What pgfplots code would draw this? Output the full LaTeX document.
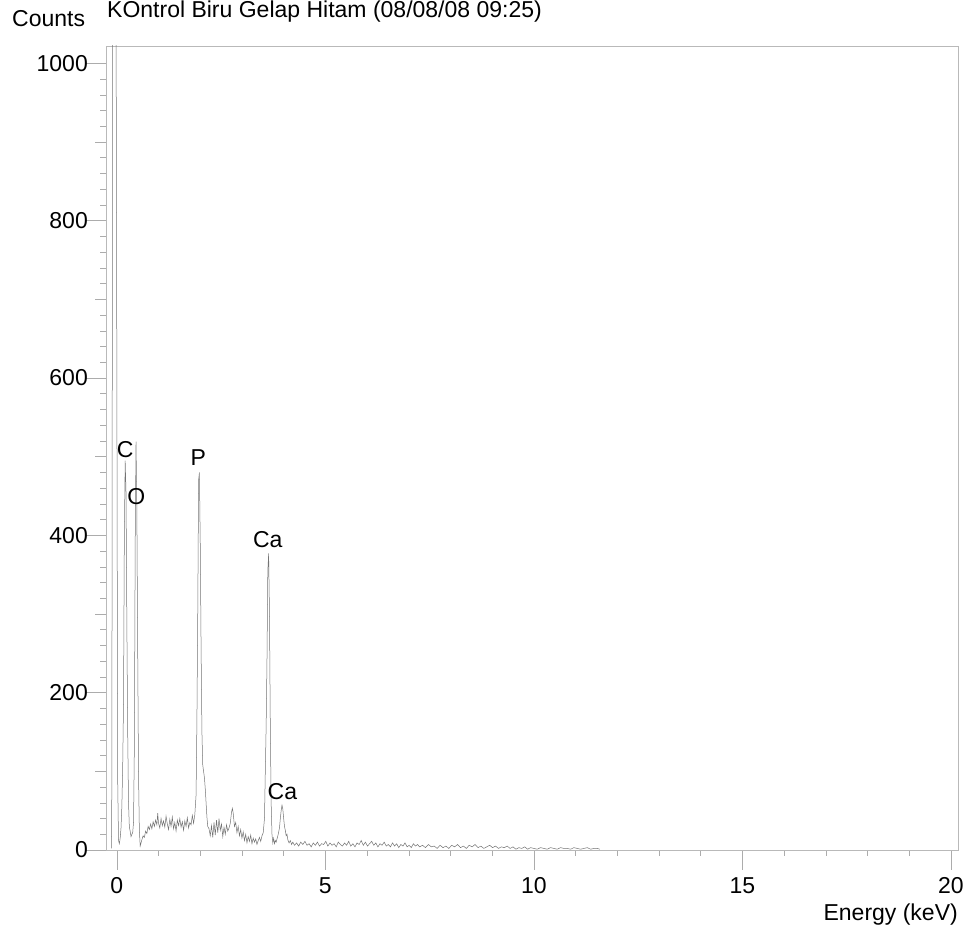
\documentclass[border=0pt]{standalone}
\usepackage{fontspec}
\setmainfont{Liberation Sans}
\usepackage{pgfplots}
\pgfplotsset{compat=1.18}

\pgfplotstableread{
E C
-0.13 2
-0.12 80
-0.10 1100
-0.02 1100
0.00 608
0.02 90
0.04 12
0.06 8
0.08 15
0.10 28
0.12 55
0.14 105
0.16 187
0.18 400
0.20 495
0.22 455
0.24 289
0.26 150
0.28 60
0.30 29
0.32 24
0.34 17
0.36 20
0.38 22
0.40 35
0.42 130
0.44 390
0.46 519
0.48 430
0.50 254
0.52 95
0.54 25
0.56 5
0.58 9
0.60 13
0.63 18
0.66 16
0.69 24
0.72 21
0.75 30
0.78 26
0.81 33
0.84 27
0.87 36
0.90 30
0.93 38
0.96 32
0.98 47
1.00 34
1.03 28
1.06 40
1.09 31
1.12 37
1.15 29
1.18 43
1.21 33
1.24 26
1.27 39
1.30 30
1.33 42
1.36 27
1.39 35
1.42 24
1.45 38
1.48 31
1.51 40
1.54 29
1.57 36
1.60 25
1.63 37
1.66 30
1.69 41
1.72 28
1.75 35
1.78 32
1.81 44
1.84 34
1.87 45
1.90 70
1.92 165
1.94 300
1.96 470
1.98 480
2.00 390
2.02 258
2.04 150
2.06 108
2.08 100
2.10 92
2.12 78
2.14 60
2.16 42
2.18 30
2.21 27
2.24 18
2.27 31
2.30 16
2.33 35
2.36 19
2.39 38
2.42 22
2.45 40
2.48 25
2.51 33
2.54 17
2.57 29
2.60 20
2.63 32
2.66 24
2.69 28
2.72 34
2.75 48
2.77 53
2.79 47
2.82 30
2.85 35
2.88 22
2.91 30
2.94 18
2.97 26
3.00 15
3.03 23
3.06 12
3.09 20
3.12 9
3.15 17
3.18 11
3.21 19
3.24 8
3.27 15
3.30 10
3.33 14
3.36 7
3.39 12
3.42 16
3.45 11
3.48 18
3.51 22
3.54 40
3.56 100
3.58 157
3.60 240
3.62 355
3.64 377
3.66 300
3.68 157
3.70 60
3.72 20
3.74 9
3.76 15
3.78 8
3.80 12
3.82 10
3.84 14
3.87 20
3.90 28
3.92 40
3.94 50
3.96 57
3.98 52
4.00 40
4.02 30
4.04 25
4.06 18
4.08 20
4.10 13
4.13 9
4.16 12
4.19 7
4.22 10
4.26 6
4.31 9
4.36 5
4.41 10
4.46 7
4.51 11
4.56 6
4.61 8
4.66 4
4.71 9
4.76 6
4.81 10
4.86 5
4.91 8
4.96 7
5.01 11
5.06 5
5.11 9
5.16 6
5.21 8
5.26 4
5.31 10
5.36 7
5.41 5
5.46 9
5.51 6
5.56 11
5.61 5
5.66 8
5.71 4
5.76 9
5.81 7
5.86 12
5.91 6
5.96 10
6.01 5
6.06 8
6.11 11
6.16 6
6.21 9
6.26 4
6.31 8
6.36 6
6.41 10
6.46 5
6.51 7
6.56 4
6.61 9
6.66 5
6.71 8
6.76 3
6.81 7
6.86 5
6.91 9
6.96 4
7.01 6
7.06 3
7.11 8
7.16 5
7.21 7
7.26 4
7.33 6
7.40 3
7.47 7
7.54 4
7.61 5
7.68 2
7.75 6
7.82 3
7.89 5
7.96 2
8.03 6
8.10 4
8.17 7
8.24 3
8.31 5
8.38 2
8.45 6
8.52 4
8.59 7
8.66 3
8.73 5
8.80 2
8.87 4
8.94 6
9.01 3
9.08 5
9.15 2
9.22 4
9.29 3
9.36 5
9.43 2
9.50 4
9.57 1
9.64 3
9.71 2
9.78 4
9.85 1
9.92 3
10.00 2
10.08 1
10.16 3
10.24 2
10.32 1
10.40 3
10.48 2
10.56 1
10.64 3
10.72 2
10.80 2
10.88 1
10.96 3
11.04 2
11.12 1
11.20 2
11.28 3
11.36 1
11.44 2
11.52 2
11.58 1
}\spectrum

\begin{document}
\fontsize{23bp}{27bp}\selectfont
\begin{tikzpicture}
\useasboundingbox (-106bp,-84bp) rectangle (862bp,850bp);
\begin{axis}[
  at={(0,0)}, anchor=south west,
  scale only axis,
  width=852bp, height=804bp,
  xmin=-0.26, xmax=20.17,
  ymin=0, ymax=1022,
  axis line style={gray!55, line width=0.6bp},
  tick align=outside,
  xtick pos=bottom, ytick pos=left,
  xtick={0,5,10,15,20},
  minor xtick={1,2,3,4,6,7,8,9,11,12,13,14,16,17,18,19},
  ytick={0,200,400,600,800,1000},
  minor y tick num=9,
  extra y ticks={100,300,500,700,900},
  extra y tick labels={},
  extra y tick style={major tick length=11bp},
  major tick length=20bp,
  minor tick length=6bp,
  every tick/.style={gray!65, line width=0.5bp},
  /pgf/number format/assume math mode=true,
  /pgf/number format/1000 sep={},
  tick label style={font=\fontsize{23bp}{27bp}\selectfont, black},
  yticklabel style={inner sep=1bp, xshift=3bp},
  xticklabel style={inner sep=1bp, yshift=-6bp},
]
\addplot[black!55, line width=0.5bp] table[x=E, y=C] {\spectrum};
\node at (axis cs:0.20,509) {C};
\node at (axis cs:0.47,449) {O};
\node at (axis cs:1.955,499) {P};
\node at (axis cs:3.62,394) {Ca};
\node at (axis cs:3.97,74) {Ca};
\end{axis}
\node[anchor=base west, inner sep=0pt] at (-94bp,823bp) {Counts};
\node[anchor=base west, inner sep=0pt] at (1bp,832bp) {KOntrol Biru Gelap Hitam (08/08/08 09:25)};
\node[anchor=base east, inner sep=0pt] at (852bp,-70bp) {Energy (keV)};
\end{tikzpicture}
\end{document}
